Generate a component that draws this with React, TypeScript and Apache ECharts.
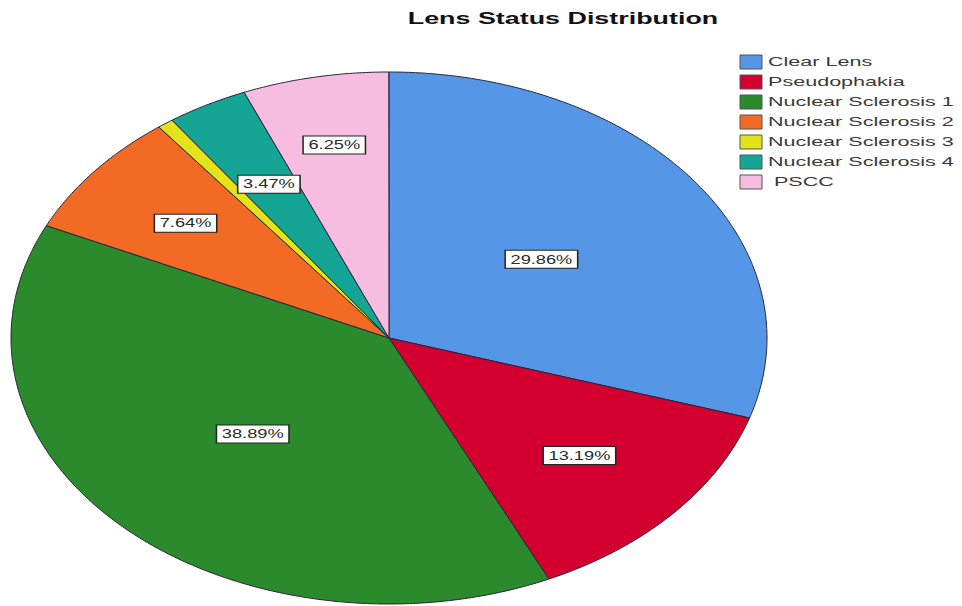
import React, { useEffect, useRef } from "react";
import * as echarts from "echarts";

const categories = [
  "Clear Lens",
  "Pseudophakia",
  "Nuclear Sclerosis 1",
  "Nuclear Sclerosis 2",
  "Nuclear Sclerosis 3",
  "Nuclear Sclerosis 4",
  "PSCC",
];
const percentages = [29.86, 13.19, 38.89, 7.64, 0.69, 3.47, 6.25];
const colors = ["#5596E6", "#D3002F", "#2B8A2B", "#F26A24", "#E3E31C", "#15A594", "#F7BDE1"];
const legendLabels = ["Clear Lens", "Pseudophakia", "Nuclear Sclerosis 1", "Nuclear Sclerosis 2", "Nuclear Sclerosis 3", "Nuclear Sclerosis 4", " PSCC"];
const titleText = "Lens Status Distribution";

// layout (style) settings
const CX = 389;
const CY = 338;
const RX = 378;
const RY = 266;
const labelRadius = [0.5, 0.67, 0.51, 0.69, 0.7, 0.66, 0.74];
const TEXT_SCALE = 1.66;

export default function App() {
  const ref = useRef<HTMLDivElement>(null);

  useEffect(() => {
    if (!ref.current) return;
    const chart = echarts.init(ref.current, null, { renderer: "svg" });

    let cum = 0;
    const data = percentages.map((v) => {
      const item = { value: [v, cum] };
      cum += v;
      return item;
    });

    const renderItem = (params: any, api: any) => {
      const i = params.dataIndex;
      const v = api.value(0) as number;
      const start = api.value(1) as number;
      const a0 = 90 - start * 3.6;
      const a1 = 90 - (start + v) * 3.6;
      const pts: number[][] = [[CX, CY]];
      const steps = Math.max(2, Math.ceil((a0 - a1) / 0.5));
      for (let k = 0; k <= steps; k++) {
        const a = ((a0 + (a1 - a0) * (k / steps)) * Math.PI) / 180;
        pts.push([CX + RX * Math.cos(a), CY - RY * Math.sin(a)]);
      }
      const children: any[] = [
        {
          type: "polygon",
          shape: { points: pts },
          style: { fill: colors[i], stroke: "#26263a", lineWidth: 1 },
        },
      ];
      if (v >= 1) {
        const mid = (((a0 + a1) / 2) * Math.PI) / 180;
        const f = labelRadius[i];
        children.push({
          type: "text",
          x: CX + f * RX * Math.cos(mid),
          y: CY - f * RY * Math.sin(mid),
          scaleX: 1.52,
          z2: 10,
          style: {
            text: v.toFixed(2) + "%",
            fontFamily: "Liberation Sans, Arial, sans-serif",
            fontSize: 12,
            fill: "#2a2a2a",
            align: "center",
            verticalAlign: "middle",
            backgroundColor: "#ffffff",
            borderColor: "#222",
            borderWidth: 1,
            padding: [3, 3, 2, 3],
          },
        });
      }
      return { type: "group", children };
    };

    const legendGraphics: any[] = [];
    categories.forEach((c, i) => {
      const y = 62 + i * 20;
      legendGraphics.push({
        type: "rect",
        shape: { x: 740, y: y - 7, width: 22, height: 14 },
        style: { fill: colors[i], stroke: "#555", lineWidth: 1 },
      });
      legendGraphics.push({
        type: "text",
        x: 768,
        y: y,
        scaleX: TEXT_SCALE,
        style: {
          text: legendLabels[i],
          fontFamily: "Liberation Sans, Arial, sans-serif",
          fontSize: 13,
          fill: "#3a3a3a",
          align: "left",
          verticalAlign: "middle",
        },
      });
    });

    chart.setOption({
      animation: false,
      backgroundColor: "#ffffff",
      graphic: [
        {
          type: "text",
          x: 563,
          y: 19,
          scaleX: 1.68,
          style: {
            text: titleText,
            fontFamily: "Liberation Sans, Arial, sans-serif",
            fontWeight: "bold",
            fontSize: 16,
            fill: "#111",
            align: "center",
            verticalAlign: "middle",
          },
        },
        ...legendGraphics,
      ],
      series: [
        {
          type: "custom",
          coordinateSystem: "none",
          renderItem,
          data,
        },
      ],
    });

    return () => chart.dispose();
  }, []);

  return (
    <div
      ref={ref}
      style={{ position: "fixed", left: 0, top: 0, width: 962, height: 606, background: "#fff" }}
    />
  );
}
